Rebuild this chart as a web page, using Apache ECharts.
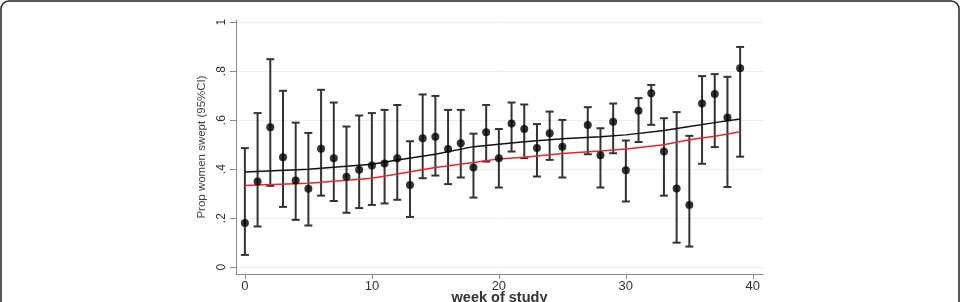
<!DOCTYPE html>
<html>
<head>
<meta charset="utf-8">
<script src="https://cdn.jsdelivr.net/npm/echarts@6/dist/echarts.min.js"></script>
<style>
html, body { margin: 0; padding: 0; background: #fff; }
#chart { width: 961px; height: 302px; }
</style>
</head>
<body>
<div id="chart"></div>
<script>
// observed proportion per week with 95% CI (week 26 has no point)
var weeks = [0, 1, 2, 3, 4, 5, 6, 7, 8, 9, 10, 11, 12, 13, 14, 15, 16, 17, 18, 19, 20,
	21, 22, 23, 24, 25, 27, 28, 29, 30, 31, 32, 33, 34, 35, 36, 37, 38, 39]
var prop = [0.18, 0.35, 0.571, 0.449, 0.354, 0.32, 0.483, 0.445, 0.369, 0.398, 0.415,
	0.423, 0.445, 0.335, 0.526, 0.532, 0.482, 0.506, 0.407, 0.551, 0.445,
	0.586, 0.564, 0.486, 0.547, 0.492, 0.58, 0.457, 0.594, 0.396, 0.638,
	0.71, 0.472, 0.321, 0.254, 0.668, 0.707, 0.611, 0.812]
var lower = [0.05, 0.166, 0.332, 0.246, 0.193, 0.17, 0.292, 0.27, 0.222, 0.241, 0.254,
	0.26, 0.275, 0.205, 0.363, 0.374, 0.339, 0.366, 0.284, 0.431, 0.325,
	0.472, 0.445, 0.37, 0.438, 0.366, 0.461, 0.325, 0.465, 0.268, 0.511,
	0.581, 0.292, 0.1, 0.084, 0.422, 0.49, 0.327, 0.451]
var upper = [0.486, 0.629, 0.849, 0.72, 0.59, 0.548, 0.724, 0.672, 0.574, 0.619, 0.629,
	0.642, 0.662, 0.514, 0.705, 0.699, 0.642, 0.642, 0.545, 0.662, 0.564,
	0.672, 0.664, 0.584, 0.635, 0.601, 0.653, 0.567, 0.668, 0.517, 0.69,
	0.744, 0.608, 0.633, 0.536, 0.78, 0.788, 0.777, 0.899]

// fitted curves
var fitWeeks = [0, 5, 10, 12, 15, 18, 20, 22, 25, 28, 30, 33, 35, 37, 39]
var fitBlack = [0.388, 0.40, 0.42, 0.437, 0.461, 0.492, 0.502, 0.512, 0.524, 0.532, 0.54, 0.558, 0.574, 0.59, 0.605]
var fitRed = [0.333, 0.343, 0.363, 0.38, 0.407, 0.427, 0.442, 0.449, 0.464, 0.474, 0.482, 0.50, 0.52, 0.534, 0.553]

var xTicks = [0, 10, 20, 30, 40]
var yTicks = [0, 0.2, 0.4, 0.6, 0.8, 1]

function pairs(xs, ys) {
	return xs.map(function (x, i) { return [x, ys[i]] })
}

function renderCap(params, api) {
	var x = api.value(0)
	var lo = api.coord([x, api.value(1)])
	var hi = api.coord([x, api.value(2)])
	var w = 4
	var st = { stroke: '#333', lineWidth: 2 }
	return {
		type: 'group',
		children: [
			{ type: 'line', shape: { x1: lo[0], y1: lo[1], x2: hi[0], y2: hi[1] }, style: st },
			{ type: 'line', shape: { x1: lo[0] - w, y1: lo[1], x2: lo[0] + w, y2: lo[1] }, style: st },
			{ type: 'line', shape: { x1: hi[0] - w, y1: hi[1], x2: hi[0] + w, y2: hi[1] }, style: st }
		]
	}
}

var myChart = echarts.init(document.getElementById('chart'))
myChart.setOption({
	animation: false,
	textStyle: { fontFamily: 'Liberation Sans, Arial, sans-serif' },
	graphic: [
		{
			type: 'rect',
			shape: { x: 1, y: 1, width: 958, height: 330, r: 8 },
			style: { fill: 'none', stroke: '#222', lineWidth: 1.5 },
			silent: true
		}
	],
	grid: { left: 236, right: 198, top: 20, bottom: 28, outerBoundsMode: 'none' },
	xAxis: {
		type: 'value',
		min: -0.7,
		max: 40.8,
		name: 'week of study',
		nameLocation: 'middle',
		nameGap: 16,
		nameMoveOverlap: false,
		nameTextStyle: { color: '#333', fontSize: 14.5, fontWeight: 'bold' },
		axisLine: { show: true, onZero: false, lineStyle: { color: '#8a8a8a', width: 1 } },
		axisTick: { show: true, length: 5, customValues: xTicks, lineStyle: { color: '#8a8a8a' } },
		axisLabel: { customValues: xTicks, color: '#333', fontSize: 13, margin: 6 },
		splitLine: { show: false }
	},
	yAxis: {
		type: 'value',
		min: -0.028,
		max: 1.009,
		name: 'Prop women swept (95%CI)',
		nameLocation: 'middle',
		nameGap: 28,
		nameMoveOverlap: false,
		nameTextStyle: { color: '#444', fontSize: 11.5 },
		axisLine: { show: true, onZero: false, lineStyle: { color: '#8a8a8a', width: 1 } },
		axisTick: { show: true, length: 6, customValues: yTicks, lineStyle: { color: '#8a8a8a' } },
		axisLabel: {
			customValues: yTicks,
			rotate: 90,
			color: '#333',
			fontSize: 12,
			margin: 8,
			formatter: function (v) {
				if (v === 0) return '0'
				if (v === 1) return '1'
				return String(Math.round(v * 10) / 10).replace(/^0/, '')
			}
		},
		splitLine: { show: true, lineStyle: { color: '#ececec', width: 1 } }
	},
	series: [
		{
			name: 'ci',
			type: 'custom',
			renderItem: renderCap,
			encode: { x: 0, y: [1, 2] },
			data: weeks.map(function (w, i) { return [w, lower[i], upper[i]] }),
			z: 2
		},
		{
			name: 'fit',
			type: 'line',
			data: pairs(fitWeeks, fitBlack),
			showSymbol: false,
			lineStyle: { color: '#111', width: 1.5 },
			z: 3
		},
		{
			name: 'fit2',
			type: 'line',
			data: pairs(fitWeeks, fitRed),
			showSymbol: false,
			lineStyle: { color: '#e8252b', width: 1.5 },
			z: 3
		},
		{
			name: 'prop',
			type: 'scatter',
			data: pairs(weeks, prop),
			symbolSize: 8,
			itemStyle: { color: '#000' },
			z: 4
		}
	]
})
</script>
</body>
</html>
